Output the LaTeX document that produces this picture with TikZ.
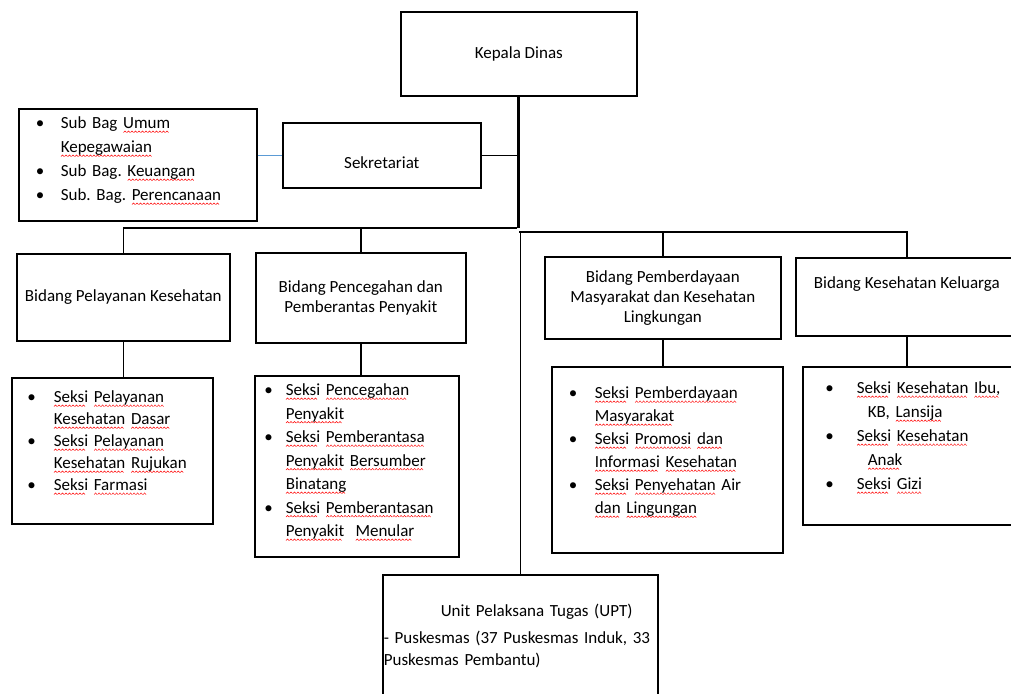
\documentclass[tikz,border=0pt]{standalone}
\usepackage{fontspec}
\setmainfont{Carlito}
\usepackage{tikz}
\frenchspacing
\newcommand{\boxfont}{\fontsize{17}{20}\selectfont}
\definecolor{linkblue}{RGB}{91,155,213}
\newsavebox{\wavebox}
\newsavebox{\chkbox}
\newcommand{\chk}[1]{\sbox{\chkbox}{#1}\rlap{\raisebox{-4pt}[0pt][0pt]{\hbox to \wd\chkbox{\leaders\copy\wavebox\hfil}}}\usebox{\chkbox}}
\tikzset{
  unitbox/.style={
    rectangle,
    draw=black, line width=1.6pt,
    inner sep=0pt,
    align=center,
    font=\boxfont,
    anchor=north west},
  listbox/.style={unitbox, align=left, font=\fontsize{17}{#1}\selectfont},
  link/.style={draw, line width=1.5pt},
  trunk/.style={draw, line width=2.8pt},
}
\begin{document}
\global\setbox\wavebox=\hbox{\begin{pgfpicture}
  \pgfpathmoveto{\pgfpoint{0pt}{0pt}}
  \pgfpathlineto{\pgfpoint{1.5pt}{1.6pt}}
  \pgfpathlineto{\pgfpoint{3pt}{0pt}}
  \pgfsetstrokecolor{red}
  \pgfsetlinewidth{0.5pt}
  \pgfusepath{stroke}
\end{pgfpicture}}
\begin{tikzpicture}[x=1pt,y=-1pt]
  \useasboundingbox (0,0) rectangle (1011,693);
  \clip (0,0) rectangle (1011,693);
  \fill[white] (0,0) rectangle (1011,693);

  % pimpinan
  \node[unitbox, minimum width=236pt, minimum height=84pt] (kepala) at (400,11) {Kepala Dinas};
  \node[unitbox, minimum width=198pt, minimum height=65pt, text height=26pt] (sekretariat) at (282,122) {Sekretariat};
  \node[listbox=24, text width=204pt, inner xsep=17pt, text height=20pt, text depth=92pt] (subbag) at (18,108)
    {\begin{tabular}[t]{@{}p{25pt}@{}l@{}}
      \textbullet & Sub Bag \chk{Umum}\\
                  & \chk{Kepegawaian}\\
      \textbullet & Sub Bag. \chk{Keuangan}\\
      \textbullet & Sub. Bag. \chk{Perencanaan}
     \end{tabular}};

  % bidang
  \node[unitbox, minimum width=213pt, minimum height=87pt] (pelayanan) at (16,253) {Bidang Pelayanan Kesehatan};
  \node[unitbox, minimum width=210pt, minimum height=90pt] (pencegahan) at (255,252) {Bidang Pencegahan dan\\Pemberantas Penyakit};
  \node[unitbox, minimum width=236pt, minimum height=82pt] (pemberdayaan) at (544,256) {Bidang Pemberdayaan\\Masyarakat dan Kesehatan\\Lingkungan};
  \node[unitbox, minimum width=222pt, minimum height=78pt, text depth=28pt] (keluarga) at (795,257) {Bidang Kesehatan Keluarga};

  % seksi
  \node[listbox=22, text width=170pt, inner xsep=15.5pt, text height=25pt, text depth=121pt] (seksipel) at (11,377)
    {\begin{tabular}[t]{@{}p{26.5pt}@{}l@{}}
      \textbullet & \chk{Seksi} \chk{Pelayanan}\\
                  & \chk{Kesehatan} \chk{Dasar}\\
      \textbullet & \chk{Seksi} \chk{Pelayanan}\\
                  & \chk{Kesehatan} \chk{Rujukan}\\
      \textbullet & \chk{Seksi} \chk{Farmasi}
     \end{tabular}};
  \node[listbox=23.5, text width=185pt, inner xsep=9.5pt, text height=20pt, text depth=161pt] (seksipen) at (254,375)
    {\begin{tabular}[t]{@{}p{21.5pt}@{}l@{}}
      \textbullet & \chk{Seksi} \chk{Pencegahan}\\
                  & \chk{Penyakit}\\
      \textbullet & \chk{Seksi} \chk{Pemberantasa}\\
                  & \chk{Penyakit} \chk{Bersumber}\\
                  & \chk{Binatang}\\
      \textbullet & \chk{Seksi} \chk{Pemberantasan}\\
                  & \chk{Penyakit}\ \ \chk{Menular}
     \end{tabular}};
  \node[listbox=23, text width=197pt, inner xsep=17pt, text height=32pt, text depth=154pt] (seksiber) at (551,366)
    {\begin{tabular}[t]{@{}p{26pt}@{}l@{}}
      \textbullet & \chk{Seksi} \chk{Pemberdayaan}\\
                  & \chk{Masyarakat}\\
      \textbullet & \chk{Seksi} \chk{Promosi} \chk{dan}\\
                  & \chk{Informasi} \chk{Kesehatan}\\
      \textbullet & \chk{Seksi} \chk{Penyehatan} Air\\
                  & \chk{dan} \chk{Lingungan}
     \end{tabular}};
  \node[listbox=24, text width=175pt, inner xsep=22.5pt, text height=27pt, text depth=131pt] (seksikes) at (802,366)
    {\begin{tabular}[t]{@{}p{31.5pt}@{}l@{}}
      \textbullet & \chk{Seksi} \chk{Kesehatan} \chk{Ibu,}\\
                  & \hspace*{11pt}KB, \chk{Lansija}\\
      \textbullet & \chk{Seksi} \chk{Kesehatan}\\
                  & \hspace*{11pt}\chk{Anak}\\
      \textbullet & \chk{Seksi} \chk{Gizi}
     \end{tabular}};

  % upt
  \node[listbox=22, text width=273pt, inner xsep=1pt, text height=42pt, text depth=82pt] (upt) at (382,574)
    {\begin{tabular}[t]{@{}l@{}}
      \hspace*{57pt}Unit Pelaksana Tugas (UPT)\\[5pt]
      - Puskesmas (37 Puskesmas Induk, 33\\
      Puskesmas Pembantu)
     \end{tabular}};

  % garis
  \coordinate (busl) at (517,228);
  \coordinate (busr) at (519,232);
  \path[trunk] (kepala.south) -- (kepala.south |- busl);
  \path[link] (sekretariat.east) -- (sekretariat.east -| kepala.south);
  \draw[linkblue, line width=1.3pt] (sekretariat.west -| subbag.east) -- (sekretariat.west);
  \path[link] (busl) -| (pelayanan.north);
  \path[link] (pencegahan.north) -- (pencegahan.north |- busl);
  \path[link] (busr) -| (keluarga.north);
  \path[link] (pemberdayaan.north) -- (pemberdayaan.north |- busr);
  \path[link] (upt.north) -- (upt.north |- busr);
  \path[link] (pelayanan.south) -- (pelayanan.south |- seksipel.north);
  \path[link] (pencegahan.south) -- (pencegahan.south |- seksipen.north);
  \path[link] (pemberdayaan.south) -- (pemberdayaan.south |- seksiber.north);
  \path[link] (keluarga.south) -- (keluarga.south |- seksikes.north);
\end{tikzpicture}
\end{document}
